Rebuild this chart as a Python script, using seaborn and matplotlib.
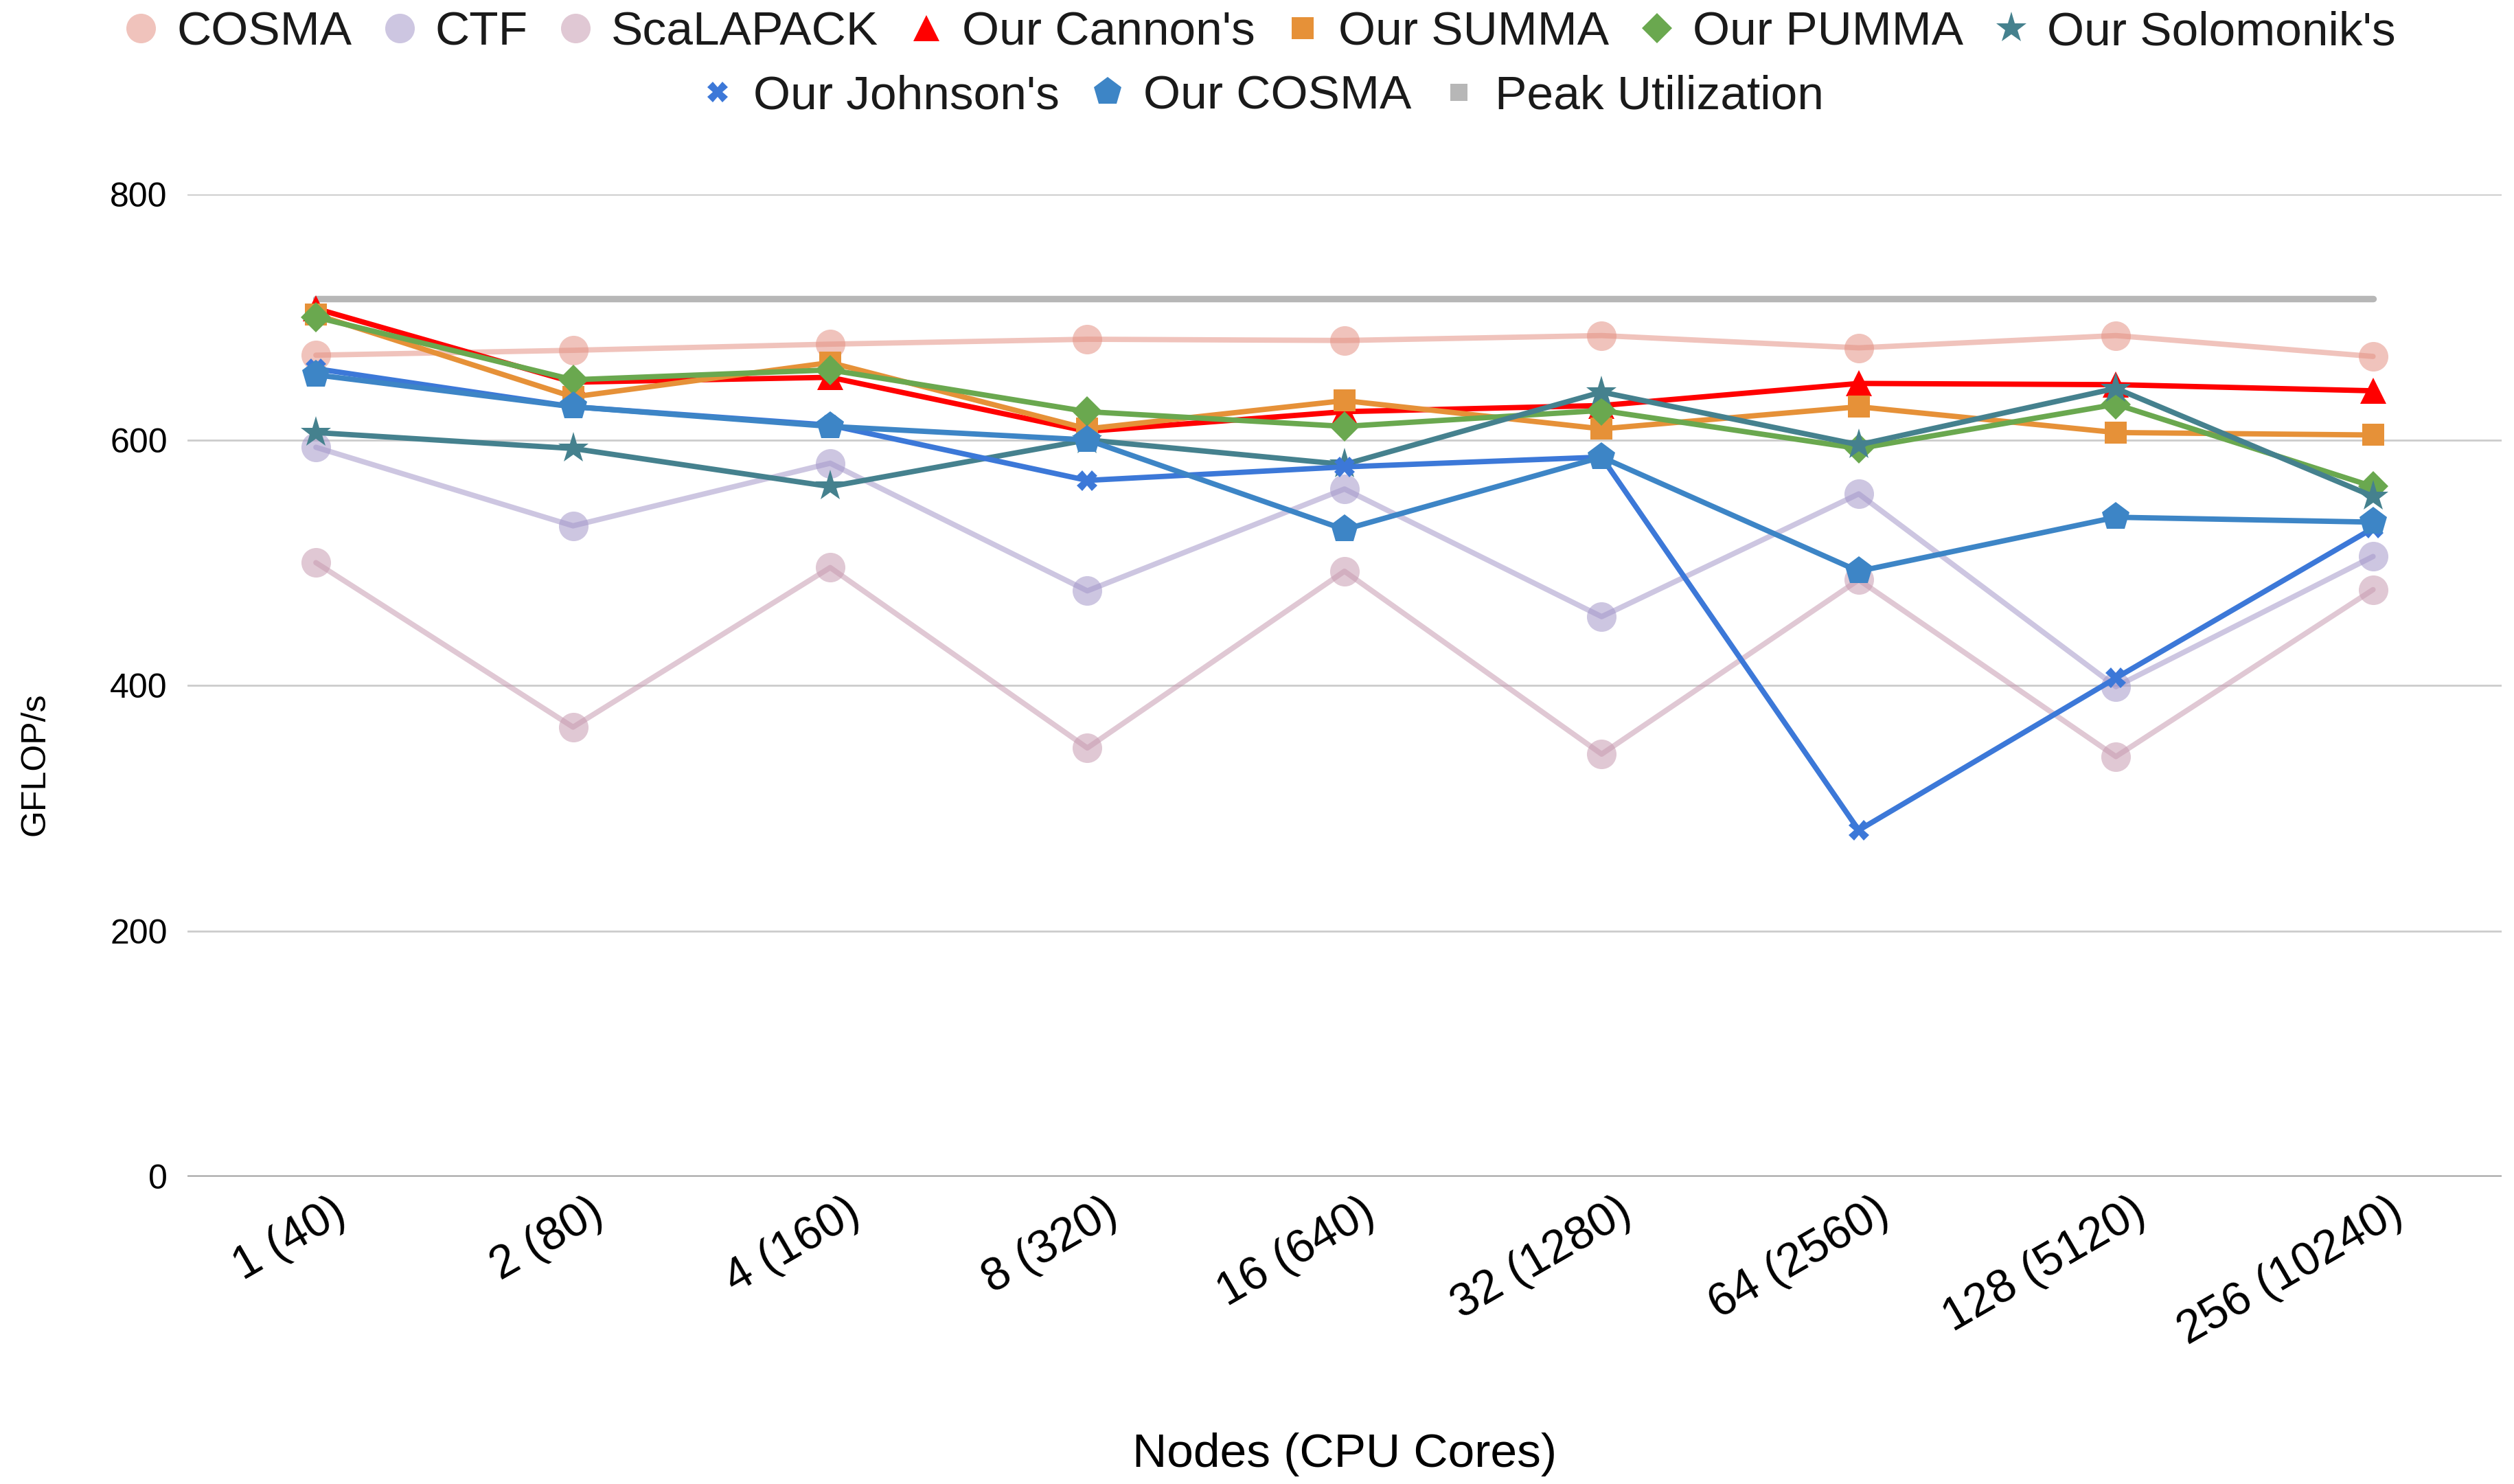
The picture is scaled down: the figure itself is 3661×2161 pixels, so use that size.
import matplotlib
matplotlib.use("Agg")
import matplotlib.pyplot as plt
import matplotlib.transforms as mtransforms
from matplotlib.lines import Line2D
import seaborn as sns

# Node counts (CPU cores) on the x axis
nodes = ["1 (40)", "2 (80)", "4 (160)", "8 (320)", "16 (640)",
         "32 (1280)", "64 (2560)", "128 (5120)", "256 (10240)"]

# Measured throughput per node, GFLOP/s
cosma = [669, 673, 678, 682, 681, 685, 675, 685, 668]
ctf = [594, 530, 581, 477, 560, 456, 556, 399, 505]
scalapack = [500, 366, 496, 349, 493, 344, 486, 342, 478]
our_cannon = [707, 647, 651, 607, 623, 628, 646, 645, 640]
our_summa = [702, 635, 663, 609, 632, 609, 627, 606, 604]
our_pumma = [700, 649, 657, 623, 611, 624, 593, 629, 562]
our_solomonik = [606, 593, 562, 600, 580, 639, 596, 642, 554]
our_johnson = [658, 627, 612, 567, 578, 586, 282, 406, 528]
our_cosma = [653, 627, 611, 600, 527, 586, 493, 537, 533]
peak = [715, 715, 715, 715, 715, 715, 715, 715, 715]

sns.set_theme(style="white")
plt.rcParams["font.family"] = ["Liberation Sans", "DejaVu Sans"]

DPI = 200
fig = plt.figure(figsize=(3662 / DPI, 2161 / DPI), dpi=DPI)
ax = fig.add_axes([0.0745, 0.2073, 0.9203, 0.6617])

# label, values, color, marker, marker size, alpha
series = [
    ("COSMA", cosma, "#E49285", "o", 15.5, 0.55),
    ("CTF", ctf, "#A497CA", "o", 15.5, 0.55),
    ("ScaLAPACK", scalapack, "#C89BB1", "o", 15.5, 0.55),
    ("Our Cannon's", our_cannon, "#FF0000", "^", 14, 1.0),
    ("Our SUMMA", our_summa, "#E69138", "s", 11.5, 1.0),
    ("Our PUMMA", our_pumma, "#6AA84F", "D", 11, 1.0),
    ("Our Solomonik's", our_solomonik, "#45818E", "*", 17, 1.0),
    ("Our Johnson's", our_johnson, "#3C78D8", "X", 10.5, 1.0),
    ("Our COSMA", our_cosma, "#3D85C6", "p", 15.5, 1.0),
]
peak_color = "#B7B7B7"

# Peak utilisation reference line
sns.lineplot(x=nodes, y=peak, ax=ax, color=peak_color, linewidth=3.4,
             sort=False, legend=False, zorder=2)

for i, (name, vals, color, marker, ms, alpha) in enumerate(series):
    sns.lineplot(x=nodes, y=vals, ax=ax, color=color, marker=marker,
                 markersize=ms, markeredgewidth=0, linewidth=2.8,
                 alpha=alpha, sort=False, legend=False, zorder=3 + i)

ax.set_xlim(-0.5, 8.5)
ax.set_ylim(0, 800)
ax.set_yticks([0, 200, 400, 600, 800])
ax.yaxis.grid(True, color="#CCCCCC", linewidth=1.0)
ax.xaxis.grid(False)
ax.axhline(0, color="#444444", linewidth=1.0, zorder=20)
for sp in ax.spines.values():
    sp.set_visible(False)
ax.set_xlabel("")
ax.set_ylabel("")

ax.tick_params(axis="y", length=0, pad=10.5, labelsize=18, labelcolor="black")
ax.tick_params(axis="x", length=0, pad=7, labelsize=24.5, labelcolor="black")
offset = mtransforms.ScaledTranslation(55 / DPI, 0, fig.dpi_scale_trans)
for lab in ax.get_xticklabels():
    lab.set_rotation(30)
    lab.set_ha("right")
    lab.set_va("top")
    lab.set_transform(lab.get_transform() + offset)

fig.text(0.014, 0.485, "GFLOP/s", rotation=90, ha="center", va="center",
         fontsize=18, color="black")
fig.text(0.5347, 0.020, "Nodes (CPU Cores)", ha="center", va="center",
         fontsize=25, color="black")

handles = [Line2D([], [], color=c, marker=m, linestyle="None", markersize=ms,
                  markeredgewidth=0, alpha=a, label=n)
           for (n, _, c, m, ms, a) in series]
handles.append(Line2D([], [], color=peak_color, marker="s", linestyle="None",
                      markersize=9, markeredgewidth=0, label="Peak Utilization"))

leg_kw = dict(frameon=False, fontsize=25, handlelength=0.9, handletextpad=0.3,
              columnspacing=0.55, borderpad=0, borderaxespad=0, labelcolor="#1A1A1A")
leg1 = fig.legend(handles=handles[:7], loc="center", bbox_to_anchor=(0.5, 0.978),
                  ncol=7, **leg_kw)
leg2 = fig.legend(handles=handles[7:], loc="center", bbox_to_anchor=(0.501, 0.935),
                  ncol=3, **leg_kw)

fig.savefig("out.png", dpi=DPI)
